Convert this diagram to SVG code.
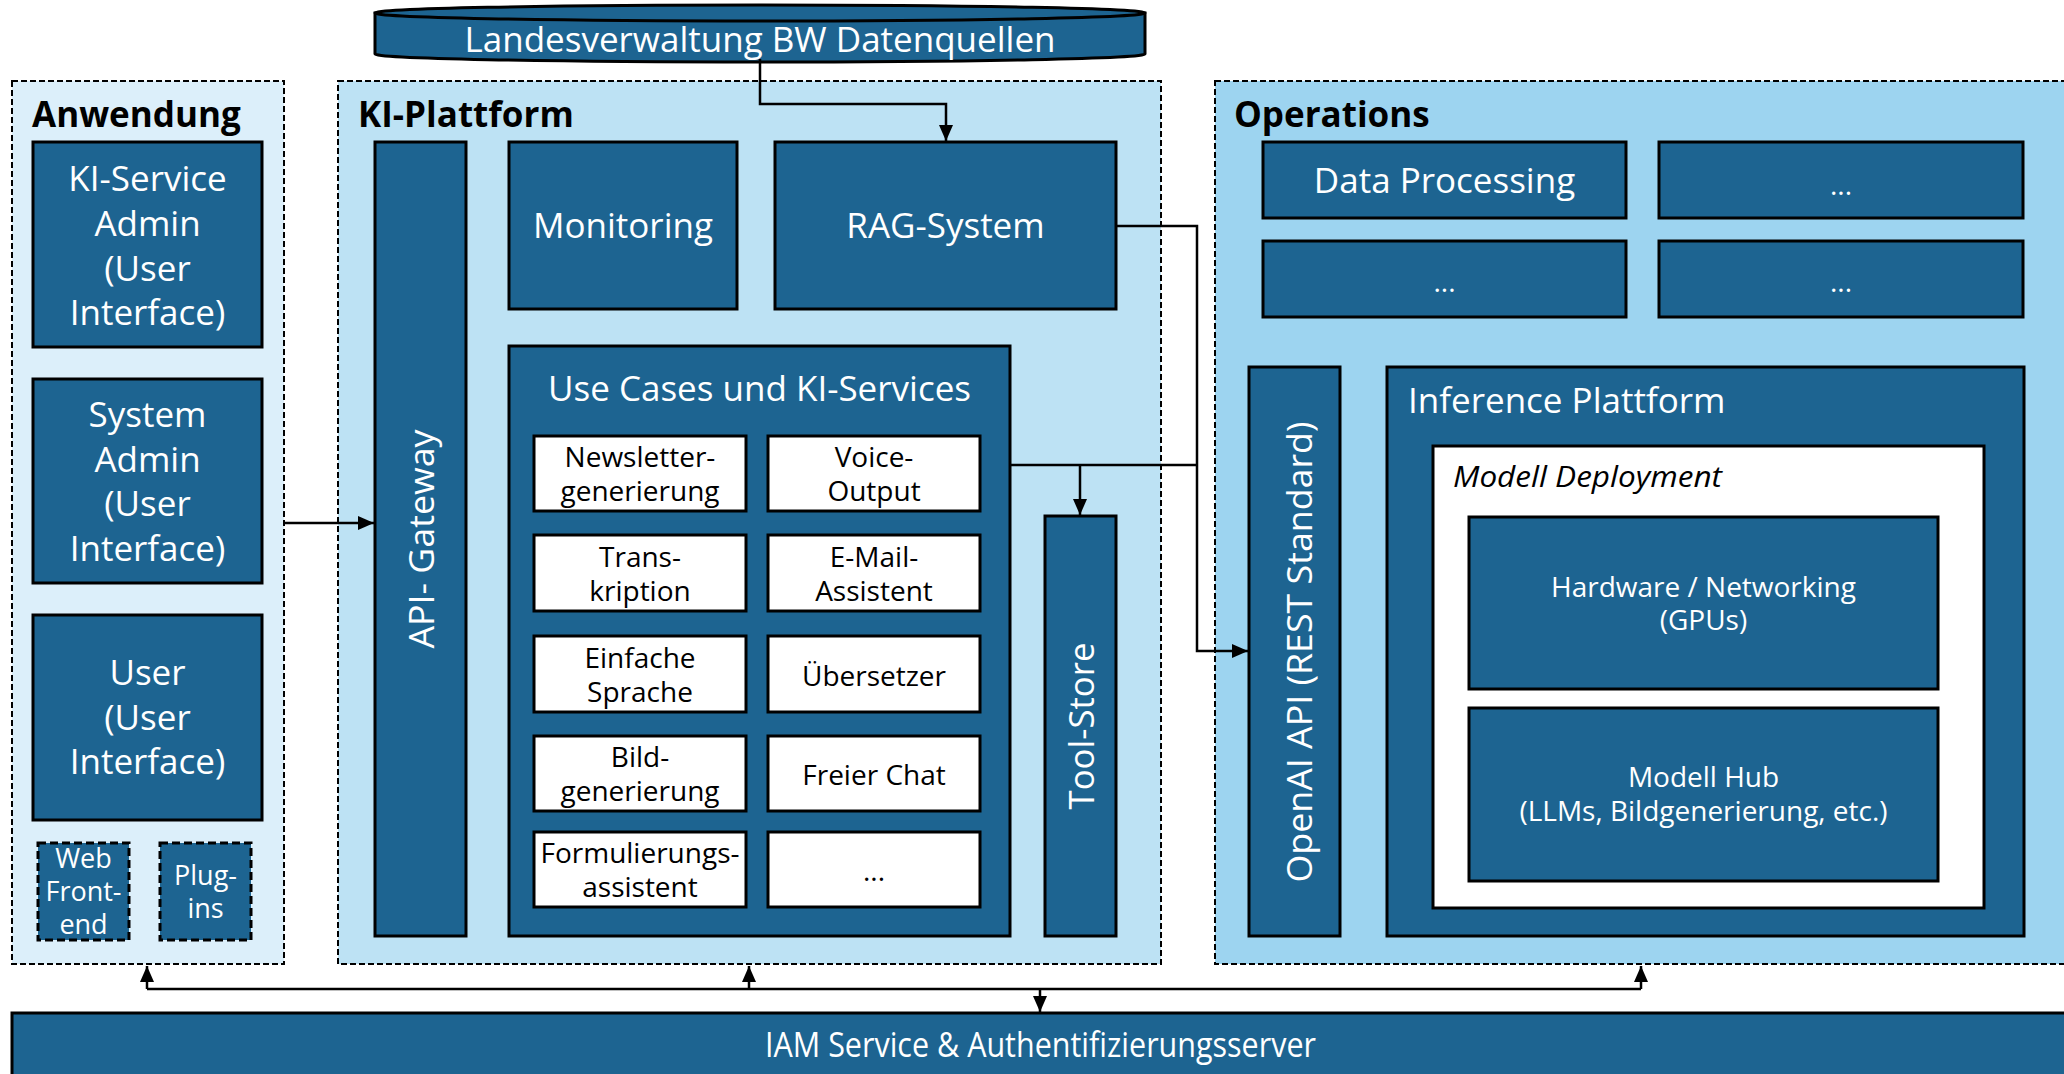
<svg xmlns="http://www.w3.org/2000/svg" width="2064" height="1074" viewBox="0 0 2064 1074">
  <defs>
    <style>
      .grp { stroke: #000; stroke-width: 2; stroke-dasharray: 6 3; }
      .dk { fill: #1D6491; stroke: #000; stroke-width: 3; }
      .wb { fill: #FFFFFF; stroke: #000; stroke-width: 3; }
      .dash { fill: #1D6491; stroke: #000; stroke-width: 3; stroke-dasharray: 8 4; }
      text { font-family: "Open Sans", "Noto Sans", "DejaVu Sans", sans-serif; }
      .t { fill: #FFFFFF; font-size: 35px; text-anchor: middle; }
      .tl { fill: #FFFFFF; font-size: 35px; text-anchor: start; }
      .ts { fill: #FFFFFF; font-size: 27px; text-anchor: middle; }
      .tm { fill: #FFFFFF; font-size: 28px; text-anchor: middle; }
      .tb { fill: #000000; font-size: 28px; text-anchor: middle; }
      .head { fill: #000000; font-size: 35px; font-weight: bold; }
      .con { fill: none; stroke: #000; stroke-width: 2.5; }
    </style>
    <marker id="arrow" markerUnits="userSpaceOnUse" markerWidth="16" markerHeight="14" viewBox="0 0 16 14" refX="16" refY="7" orient="auto">
      <path d="M0,0 L16,7 L0,14 z" fill="#000"/>
    </marker>
  </defs>

  <rect width="2064" height="1074" fill="#FFFFFF"/>

  <!-- data sources cylinder -->
  <g id="datenquellen">
    <path d="M375,13 L375,54 A385,8 0 0 0 1145,54 L1145,13 Z" class="dk"/>
    <ellipse cx="760" cy="13" rx="385" ry="8" class="dk"/>
    <text x="760" y="52" class="t">Landesverwaltung BW Datenquellen</text>
  </g>

  <!-- Anwendung -->
  <g id="anwendung">
    <rect x="12" y="81" width="272" height="883" fill="#DCEFFA" class="grp"/>
    <text x="32" y="127" class="head">Anwendung</text>
  </g>
  <g id="ki-service-admin">
    <rect x="33" y="142" width="229" height="205" class="dk"/>
    <text class="t"><tspan x="147.5" y="191">KI-Service</tspan><tspan x="147.5" y="236">Admin</tspan><tspan x="147.5" y="281">(User</tspan><tspan x="147.5" y="325">Interface)</tspan></text>
  </g>
  <g id="system-admin">
    <rect x="33" y="379" width="229" height="204" class="dk"/>
    <text class="t"><tspan x="147.5" y="427">System</tspan><tspan x="147.5" y="472">Admin</tspan><tspan x="147.5" y="516">(User</tspan><tspan x="147.5" y="561">Interface)</tspan></text>
  </g>
  <g id="user">
    <rect x="33" y="615" width="229" height="205" class="dk"/>
    <text class="t"><tspan x="147.5" y="685">User</tspan><tspan x="147.5" y="730">(User</tspan><tspan x="147.5" y="774">Interface)</tspan></text>
  </g>
  <g id="web-frontend">
    <rect x="38" y="843" width="91" height="97" class="dash"/>
    <text class="ts"><tspan x="83.5" y="868">Web</tspan><tspan x="83.5" y="901">Front-</tspan><tspan x="83.5" y="934">end</tspan></text>
  </g>
  <g id="plugins">
    <rect x="160" y="843" width="91" height="97" class="dash"/>
    <text class="ts"><tspan x="205.5" y="885">Plug-</tspan><tspan x="205.5" y="918">ins</tspan></text>
  </g>

  <!-- KI-Plattform -->
  <g id="ki-plattform">
    <rect x="338" y="81" width="823" height="883" fill="#BDE2F4" class="grp"/>
    <text x="358" y="127" class="head">KI-Plattform</text>
  </g>
  <g id="api-gateway">
    <rect x="375" y="142" width="91" height="794" class="dk"/>
    <text class="t" font-size="38" textLength="219" lengthAdjust="spacingAndGlyphs" transform="translate(434,539) rotate(-90)" x="0" y="0">API- Gateway</text>
  </g>
  <g id="monitoring">
    <rect x="509" y="142" width="228" height="167" class="dk"/>
    <text x="623" y="238" class="t">Monitoring</text>
  </g>
  <g id="rag-system">
    <rect x="775" y="142" width="341" height="167" class="dk"/>
    <text x="945.5" y="238" class="t">RAG-System</text>
  </g>
  <g id="use-cases">
    <rect x="509" y="346" width="501" height="590" class="dk"/>
    <text x="759.5" y="401" class="t">Use Cases und KI-Services</text>
  </g>
  <g id="newsletter">
    <rect x="534" y="436" width="212" height="75" class="wb"/>
    <text class="tb"><tspan x="640" y="467">Newsletter-</tspan><tspan x="640" y="501">generierung</tspan></text>
  </g>
  <g id="voice-output">
    <rect x="768" y="436" width="212" height="75" class="wb"/>
    <text class="tb"><tspan x="874" y="467">Voice-</tspan><tspan x="874" y="501">Output</tspan></text>
  </g>
  <g id="transkription">
    <rect x="534" y="535" width="212" height="76" class="wb"/>
    <text class="tb"><tspan x="640" y="567">Trans-</tspan><tspan x="640" y="601">kription</tspan></text>
  </g>
  <g id="email-assistent">
    <rect x="768" y="535" width="212" height="76" class="wb"/>
    <text class="tb"><tspan x="874" y="567">E-Mail-</tspan><tspan x="874" y="601">Assistent</tspan></text>
  </g>
  <g id="einfache-sprache">
    <rect x="534" y="636" width="212" height="76" class="wb"/>
    <text class="tb"><tspan x="640" y="668">Einfache</tspan><tspan x="640" y="702">Sprache</tspan></text>
  </g>
  <g id="uebersetzer">
    <rect x="768" y="636" width="212" height="76" class="wb"/>
    <text x="874" y="686" class="tb">Übersetzer</text>
  </g>
  <g id="bildgenerierung">
    <rect x="534" y="736" width="212" height="75" class="wb"/>
    <text class="tb"><tspan x="640" y="767">Bild-</tspan><tspan x="640" y="801">generierung</tspan></text>
  </g>
  <g id="freier-chat">
    <rect x="768" y="736" width="212" height="75" class="wb"/>
    <text x="874" y="785" class="tb">Freier Chat</text>
  </g>
  <g id="formulierungsassistent">
    <rect x="534" y="832" width="212" height="75" class="wb"/>
    <text class="tb"><tspan x="640" y="863">Formulierungs-</tspan><tspan x="640" y="897">assistent</tspan></text>
  </g>
  <g id="weitere-use-cases">
    <rect x="768" y="832" width="212" height="75" class="wb"/>
    <text x="874" y="881" class="tb">...</text>
  </g>
  <g id="tool-store">
    <rect x="1045" y="516" width="71" height="420" class="dk"/>
    <text class="t" font-size="37" textLength="167" lengthAdjust="spacingAndGlyphs" transform="translate(1094,726) rotate(-90)" x="0" y="0">Tool-Store</text>
  </g>

  <!-- Operations -->
  <g id="operations">
    <rect x="1215" y="81" width="870" height="883" fill="#9DD4F0" class="grp"/>
    <text x="1234" y="127" class="head">Operations</text>
  </g>
  <g id="data-processing">
    <rect x="1263" y="142" width="363" height="76" class="dk"/>
    <text x="1444.5" y="193" class="t">Data Processing</text>
  </g>
  <g id="ops-weitere-1">
    <rect x="1659" y="142" width="364" height="76" class="dk"/>
    <text x="1841" y="195" class="tm">...</text>
  </g>
  <g id="ops-weitere-2">
    <rect x="1263" y="241" width="363" height="76" class="dk"/>
    <text x="1444.5" y="292" class="tm">...</text>
  </g>
  <g id="ops-weitere-3">
    <rect x="1659" y="241" width="364" height="76" class="dk"/>
    <text x="1841" y="292" class="tm">...</text>
  </g>
  <g id="openai-api">
    <rect x="1249" y="367" width="91" height="569" class="dk"/>
    <text class="t" font-size="38" textLength="461" lengthAdjust="spacingAndGlyphs" transform="translate(1312,652) rotate(-90)" x="0" y="0">OpenAI API (REST Standard)</text>
  </g>
  <g id="inference-plattform">
    <rect x="1387" y="367" width="637" height="569" class="dk"/>
    <text x="1408" y="413" class="tl">Inference Plattform</text>
  </g>
  <g id="modell-deployment">
    <rect x="1433" y="446" width="551" height="462" class="wb"/>
    <text x="1453" y="487" fill="#000" font-size="30" font-style="italic" textLength="269" lengthAdjust="spacingAndGlyphs">Modell Deployment</text>
  </g>
  <g id="hardware">
    <rect x="1469" y="517" width="469" height="172" class="dk"/>
    <text class="tm"><tspan x="1703.5" y="597">Hardware / Networking</tspan><tspan x="1703.5" y="630">(GPUs)</tspan></text>
  </g>
  <g id="modell-hub">
    <rect x="1469" y="708" width="469" height="173" class="dk"/>
    <text class="tm"><tspan x="1703.5" y="787">Modell Hub</tspan><tspan x="1703.5" y="821">(LLMs, Bildgenerierung, etc.)</tspan></text>
  </g>

  <!-- IAM -->
  <g id="iam">
    <rect x="12" y="1013" width="2070" height="80" class="dk"/>
    <text x="1040.5" y="1057" class="t" font-size="30" textLength="551" lengthAdjust="spacingAndGlyphs">IAM Service &amp; Authentifizierungsserver</text>
  </g>

  <!-- connectors -->
  <g id="connectors">
    <path d="M760,59 V104 H946 V141" class="con" marker-end="url(#arrow)"/>
    <path d="M1116,226 H1197 V651 H1248" class="con" marker-end="url(#arrow)"/>
    <path d="M1010,465 H1197" class="con"/>
    <path d="M1080,465 V515" class="con" marker-end="url(#arrow)"/>
    <path d="M284,523 H374" class="con" marker-end="url(#arrow)"/>
    <path d="M147,989 H1641" class="con"/>
    <path d="M147,989 V966" class="con" marker-end="url(#arrow)"/>
    <path d="M749,989 V966" class="con" marker-end="url(#arrow)"/>
    <path d="M1641,989 V966" class="con" marker-end="url(#arrow)"/>
    <path d="M1040,989 V1012" class="con" marker-end="url(#arrow)"/>
  </g>
</svg>
